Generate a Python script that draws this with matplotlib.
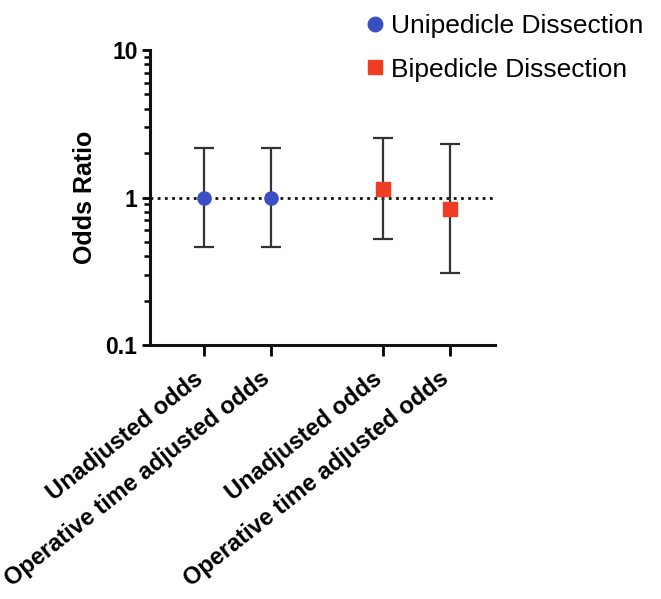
import matplotlib
matplotlib.use("Agg")
import matplotlib.pyplot as plt
from matplotlib.ticker import LogLocator, NullFormatter, FixedLocator, FixedFormatter
from matplotlib.transforms import ScaledTranslation
import numpy as np

plt.rcParams['font.family'] = ['Liberation Sans', 'DejaVu Sans']

categories = ["Unadjusted odds", "Operative time adjusted odds",
              "Unadjusted odds", "Operative time adjusted odds"]
groups = ["Unipedicle Dissection", "Unipedicle Dissection",
          "Bipedicle Dissection", "Bipedicle Dissection"]
odds = [1.0, 1.0, 1.15, 0.84]
ci_low = [0.46, 0.46, 0.52, 0.31]
ci_high = [2.18, 2.18, 2.54, 2.29]
positions = [0, 1, 2.67, 3.67]

colors = {"Unipedicle Dissection": "#3a4fc4", "Bipedicle Dissection": "#f03c23"}
markers = {"Unipedicle Dissection": "o", "Bipedicle Dissection": "s"}

fig = plt.figure(figsize=(6.61, 5.99), dpi=100)
ax = fig.add_axes([150/661, 1-345/599, (495-150)/661, (345-50)/599])

ax.axhline(1, color="#111111", linestyle=(0, (1, 1.6)), linewidth=2.0, zorder=1)

handles = {}
for x, o, lo, hi, g in zip(positions, odds, ci_low, ci_high, groups):
    ax.errorbar([x], [o], yerr=[[o - lo], [hi - o]], fmt="none",
                ecolor="#333333", elinewidth=1.6, capsize=7, capthick=1.6, zorder=2)
    h, = ax.plot([x], [o], marker=markers[g], color=colors[g], markersize=9.5,
                 linestyle="none", zorder=3)
    handles[g] = h

ax.set_yscale("log")
ax.set_ylim(0.1, 10)
ax.set_xlim(-0.81, 4.34)
ax.yaxis.set_major_locator(FixedLocator([0.1, 1, 10]))
ax.yaxis.set_major_formatter(FixedFormatter(["0.1", "1", "10"]))
ax.yaxis.set_minor_locator(LogLocator(base=10, subs=np.arange(2, 10)))
ax.yaxis.set_minor_formatter(NullFormatter())

ax.set_xticks(positions)
ax.set_xticklabels(categories, rotation=38.5, ha="right", va="baseline",
                   rotation_mode="anchor", fontsize=17, fontweight="bold")
for lab in ax.get_xticklabels():
    lab.set_transform(lab.get_transform() + ScaledTranslation(0.05, 0, fig.dpi_scale_trans))
for lab in ax.get_yticklabels():
    lab.set_fontweight("bold")
    lab.set_fontsize(16.5)

for s in ["top", "right"]:
    ax.spines[s].set_visible(False)
for s in ["left", "bottom"]:
    ax.spines[s].set_linewidth(2.2)
    ax.spines[s].set_color("#111111")

ax.tick_params(axis="y", which="major", direction="out", length=6, width=2.0, pad=3)
ax.tick_params(axis="y", which="minor", direction="out", length=4, width=1.8)
ax.tick_params(axis="x", which="major", direction="out", length=8, width=2.0, pad=18)

ax.set_ylabel("Odds Ratio", fontsize=18, fontweight="bold", labelpad=6)

ax.legend([handles["Unipedicle Dissection"], handles["Bipedicle Dissection"]],
          ["Unipedicle Dissection", "Bipedicle Dissection"],
          loc="upper left", bbox_to_anchor=(346/661, 1.0 + 2/599), bbox_transform=fig.transFigure,
          frameon=False, fontsize=19, handletextpad=0.12, handlelength=1.0,
          labelspacing=0.75, markerscale=1.1, borderaxespad=0.2)

fig.savefig("out.png", dpi=100)
